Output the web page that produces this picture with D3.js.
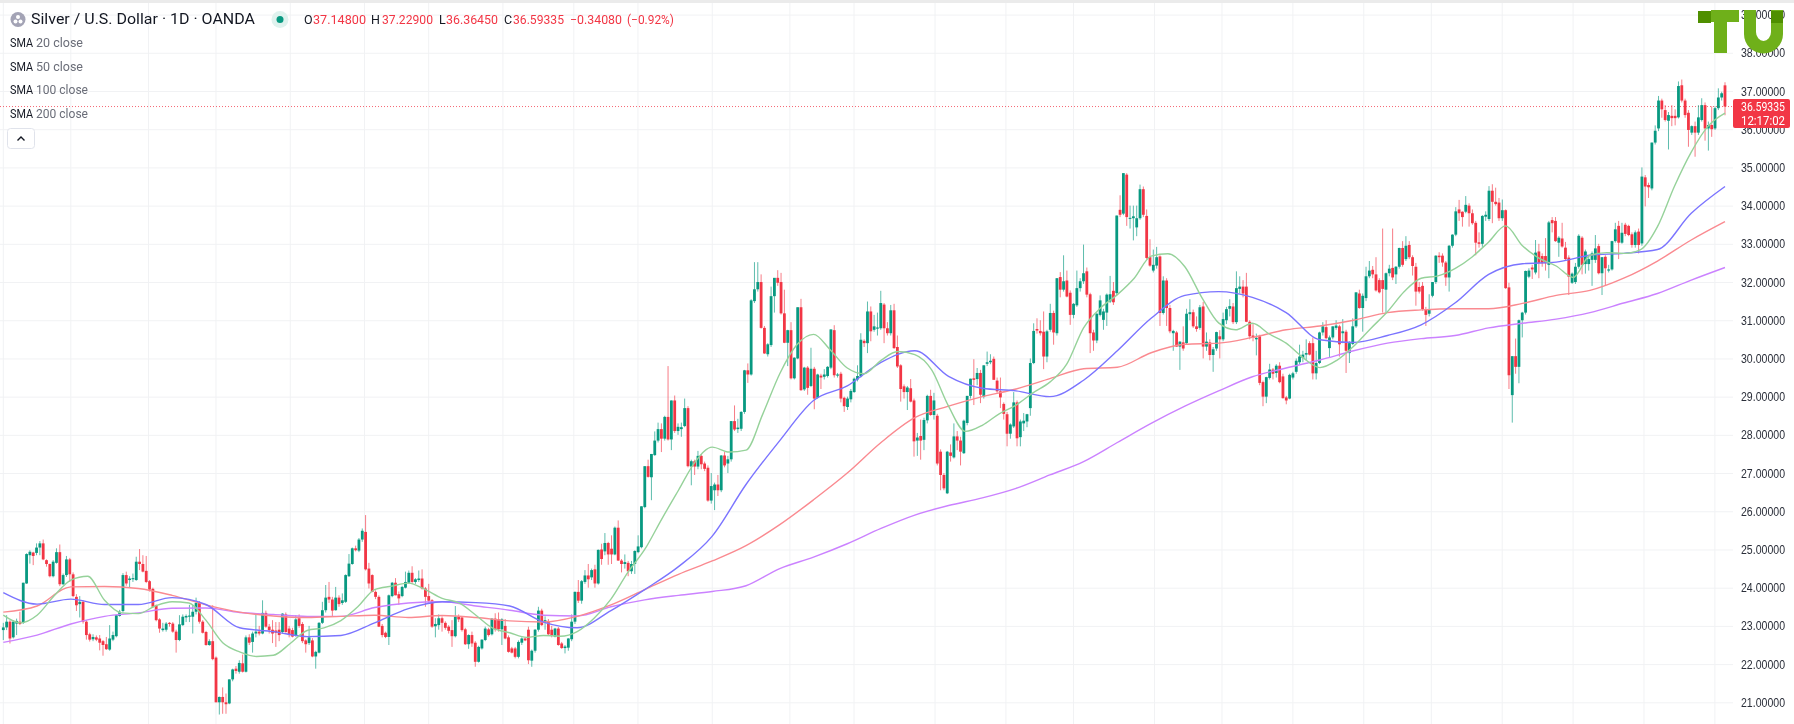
<!DOCTYPE html>
<html>
<head>
<meta charset="utf-8">
<title>Silver / U.S. Dollar</title>
<script src="https://cdn.jsdelivr.net/npm/d3@7"></script>
<style>
    html, body { margin: 0; padding: 0; background: #fff; overflow: hidden; }
    svg { display: block; filter: blur(0.3px); font-family: Roboto, "Noto Sans", sans-serif; }
    .grid line { stroke: #f1f2f4; stroke-width: 1; }
    .grid path { display: none; }
    .price-axis path, .price-axis line { display: none; }
    .price-axis text { font-size: 12.5px; fill: #2a2e39; }
</style>
</head>
<body>
<svg id="chart" width="1794" height="724"></svg>
<script>
// Daily candles, one array per stretch of the chart: [open, high, low, close]
const barsA = [
[22.89,23.08,22.63,22.96],[22.96,23.28,22.89,23.11],[23.11,23.15,22.54,22.67],[22.70,23.15,22.67,23.11],[23.06,23.19,22.76,23.13],[23.11,23.37,23.02,23.05],[23.08,24.13,23.05,24.13],[24.11,24.90,24.10,24.88],[24.85,24.98,24.63,24.94],[24.92,24.94,24.59,24.83],[24.91,25.16,24.85,25.05],[25.05,25.22,24.85,25.16],[25.16,25.26,24.72,24.74],[24.72,24.74,24.55,24.62],[24.62,24.63,24.27,24.30],[24.30,24.72,24.27,24.68],[24.65,25.03,24.63,24.93],[24.93,25.13,24.04,24.09],[24.09,24.37,24.07,24.33],[24.33,24.83,24.28,24.74],[24.74,24.78,24.15,24.35],[24.35,24.4,23.75,23.78],[23.76,23.83,23.39,23.54],[23.57,23.78,23.22,23.63],[23.63,23.67,23.06,23.11],[23.11,23.15,22.64,22.76],[22.78,22.82,22.59,22.64],[22.65,22.78,22.6,22.71],[22.7,22.75,22.6,22.64],[22.67,22.76,22.36,22.56],[22.6,22.63,22.22,22.5],[22.52,22.71,22.37,22.39],[22.38,23.02,22.35,22.67],[22.64,22.85,22.6,22.76],[22.73,23.3,22.7,23.28],[23.26,23.42,23.24,23.37],[23.39,24.38,23.35,24.33],[24.33,24.42,24.05,24.11],[24.2,24.3,24.0,24.24],[24.22,24.37,24.15,24.25],[24.2,24.81,24.18,24.68],[24.68,25.01,24.46,24.62],[24.62,24.85,24.4,24.42],[24.44,24.83,24.12,24.15],[24.17,24.2,23.9,23.95],[23.97,24,23.48,23.5],[23.54,23.56,23.12,23.15],[23.17,23.2,22.82,22.93],[22.89,23.08,22.85,22.93],[22.9,23.1,22.85,23.06],[23.08,23.1,22.98,23.05],[23.06,23.1,22.82,22.85],[22.85,22.9,22.3,22.63],[22.63,23.28,22.6,23.04],[23.02,23.3,23,23.24],[23.22,23.3,23.1,23.26],[23.24,23.55,23.1,23.27],[23.24,23.55,22.8,23.37],[23.37,23.74,23.3,23.6],[23.6,23.65,23.06,23.11],[23.11,23.15,22.8,22.82],[22.84,22.87,22.48,22.5],[22.5,22.65,22.48,22.6],[22.6,23.54,22.1,22.13],[22.17,22.2,21,21.0],[21,21.15,20.68,21.14],[21.14,21.39,20.7,21],[21,21.23,20.7,20.95],[20.97,21.6,20.95,21.6],[21.6,21.88,21.55,21.86],[21.88,21.95,21.75,21.82],[21.8,22.1,21.75,22.03],[22.02,22.25,21.78,21.8],[21.8,22.75,21.78,22.7],[22.7,22.78,22.5,22.56],[22.58,22.85,22.3,22.8],[22.8,23.3,22.7,22.85],[22.85,23,22.75,22.8],[22.8,23.67,22.78,23.34],[23.34,23.4,22.95,22.98],[22.98,23.05,22.8,22.89],[22.9,23.15,22.55,22.8],[22.88,23.1,22.45,22.82],[22.9,23.1,22.6,22.76],[22.84,23.33,22.8,23.32],[23.3,23.35,22.82,22.84],[22.93,23,22.7,22.76],[22.89,22.95,22.7,22.72],[22.74,23.28,22.72,23.17],[23.2,23.3,22.95,23]
];
const barsB = [
[23.05,23.1,22.55,22.6],[22.62,22.65,22.3,22.52],[22.55,23,22.5,22.7],[22.62,22.68,22.18,22.2],[22.2,22.35,21.88,22.32],[22.3,23.1,22.28,23.08],[23.08,23.63,23.05,23.41],[23.41,24.07,23.35,23.74],[23.76,24.15,23.6,23.69],[23.69,23.76,23.25,23.4],[23.41,24.02,23.4,23.74],[23.74,23.8,23.5,23.57],[23.6,23.85,23.55,23.67],[23.63,24.35,23.6,24.33],[24.3,24.88,24.28,24.63],[24.62,25.05,24.6,25.03],[25.03,25.1,24.95,24.98],[24.97,25.3,24.93,25.26],[25.26,25.55,25.2,25.49],[25.46,25.9,24.45,24.48],[24.5,24.65,23.98,24.11],[24.33,24.35,23.88,23.89],[23.89,23.93,23.7,23.76],[23.76,23.8,22.97,22.98],[23,23.05,22.7,22.76],[22.82,22.85,22.68,22.71],[22.71,23.82,22.5,23.8],[23.78,24.15,23.75,24.13],[24.13,24.25,23.8,23.8],[23.83,23.9,23.55,23.72],[23.78,24.05,23.75,24.02],[24,24.42,23.98,24.15],[24.13,24.45,24.1,24.39],[24.39,24.56,24.1,24.15],[24.15,24.25,24.1,24.22],[24.2,24.45,24.15,24.24],[24.24,24.48,23.95,23.98],[23.98,24.02,23.5,23.76],[23.78,24.1,23.6,23.66],[23.67,23.7,22.95,22.98],[22.99,23.2,22.7,23.05],[23.02,23.3,22.9,23.2],[23.2,23.25,22.85,23.08],[23.08,23.12,22.9,22.95],[22.98,23.02,22.8,22.87],[22.89,23.15,22.45,22.73],[22.73,23.52,22.7,23.24],[23.24,23.3,23.1,23.17],[23.22,23.26,22.85,22.89],[22.91,22.95,22.5,22.52],[22.52,22.78,22.4,22.76],[22.76,22.85,22.45,22.54],[22.56,22.6,21.93,22.06],[22.06,22.48,22.04,22.45],[22.41,22.65,22.38,22.64],[22.63,22.98,22.6,22.93],[22.91,22.95,22.72,22.76],[22.78,23.2,22.75,23.19],[23.19,23.33,22.85,22.91],[23.17,23.35,22.85,22.91],[22.91,23.2,22.5,23.17],[23.0,23.18,22.65,22.67],[22.7,22.75,22.3,22.32],[22.41,22.45,22.28,22.3],[22.41,22.45,22.15,22.19],[22.19,22.62,22.15,22.58],[22.56,22.7,22.5,22.67],[22.67,22.7,22.6,22.62],[22.9,22.98,22.0,22.1],[22.09,22.38,21.93,22.35],[22.35,22.92,22.3,22.9],[22.9,23.5,22.85,23.4],[23.4,23.45,23,23.02],[23.1,23.25,22.9,23.15],[23.13,23.18,22.75,22.78],[22.9,23,22.7,22.76],[22.72,22.95,22.7,22.93],[22.93,22.97,22.48,22.5],[22.54,22.58,22.4,22.42],[22.42,22.5,22.28,22.46],[22.43,22.68,22.35,22.67],[22.65,23.3,22.6,23.11],[23.11,23.9,23.05,23.89],[23.89,24.2,23.6,23.66],[23.66,24.2,23.58,24.17],[24.15,24.46,24.1,24.32],[24.32,24.62,24.0,24.22],[24.27,24.5,24.2,24.46],[24.48,24.6,24,24.11],[24.11,25.0,24.08,24.99]
];
const barsC = [
[25,25.15,24.6,24.75],[24.95,25.43,24.85,25.17],[25.17,25.2,24.6,24.87],[25.02,25.37,24.62,24.87],[24.87,25.6,24.85,25.57],[25.57,25.76,24.7,24.71],[24.71,24.75,24.4,24.62],[24.62,24.87,24.5,24.67],[24.65,24.7,24.3,24.43],[24.43,24.7,24.36,24.62],[24.62,24.98,24.36,24.96],[24.93,25.37,24.9,25.08],[25.06,26.13,25.03,26.13],[26.11,27.18,26.08,27.18],[27.18,27.35,26.88,26.9],[26.89,27.5,26.29,27.5],[27.47,28.09,27.45,27.85],[27.85,28.32,27.8,28.15],[28.15,28.3,27.55,27.9],
[27.9,28.5,27.85,28.47],[28.47,29.8,27.85,27.88],[27.88,28.9,27.6,28.9],[28.9,29.03,28.05,28.1],[28.1,28.3,28.0,28.21],[28.15,28.32,27.95,28.2],[28.23,28.95,28.2,28.7],[28.7,28.75,27.15,27.18],[27.17,27.35,26.68,27.31],[27.31,27.35,26.95,27.17],[27.17,27.58,27.1,27.45],[27.45,27.5,27.1,27.23],[27.25,27.3,27.05,27.11],[27.14,27.2,26.25,26.28],[26.28,27,26.2,26.66],[26.55,26.75,26.03,26.7],[26.7,26.95,26.4,26.55],[26.55,27.47,26.5,27.46],[27.46,27.55,27.15,27.2],[27.25,27.45,27.0,27.36],[27.36,28.36,27.3,28.36],[28.36,28.77,28.1,28.14],[28.15,28.42,28.05,28.19],[28.16,28.62,28.1,28.6],[28.6,29.7,28.55,29.69],[29.69,29.87,29.36,29.58],[29.58,31.55,29.55,31.52],[31.5,32.52,31.45,31.81],[31.81,32.52,31.75,32],[32,32.2,30.78,30.8],[30.8,30.85,30.12,30.13],[30.11,30.4,30.05,30.37],[30.35,31.88,30.3,31.63],[31.63,32.1,31.2,32.11],[32.11,32.31,31.9,31.98],[32,32.24,31.15,31.18],[31.18,31.8,30.4,30.41],[30.41,30.75,29.8,30.74],[30.74,30.95,29.45,29.48],[29.48,30.03,29.45,30.02],[30,31.34,29.98,31.34],[31.34,31.56,29.15,29.17],[29.19,29.78,29.15,29.76],[29.76,29.8,29.05,29.23],[29.28,30.28,29.25,29.73],[29.73,29.78,28.67,28.95],[28.97,29.6,28.95,29.58],[29.55,29.6,29.2,29.5],[29.52,29.72,29.45,29.58],[29.54,29.8,29.5,29.78],[29.76,30.76,29.72,30.76],[30.74,30.87,29.5,29.56],[29.55,29.62,29.5,29.58],[29.6,29.65,28.85,28.95],[28.97,29,28.6,28.75],[28.73,29,28.65,28.95],[28.93,29.2,28.85,29.15],[29.12,29.5,29.1,29.47],[29.45,29.82,29.4,29.54]
];
const barsD = [
[29.53,30.66,29.5,30.49],[30.46,30.5,30.3,30.4],[30.4,31.49,30.14,31.23],[31.23,31.36,30.45,30.71],[30.75,31.14,30.7,30.84],[30.78,31.2,30.6,30.81],[30.79,31.77,30.75,31.45],[31.41,31.45,30.4,30.79],[30.79,30.95,30.6,30.66],[30.66,31.4,30.6,31.26],[31.26,31.43,30.25,30.27],[30.3,30.6,29.75,29.79],[29.82,29.85,28.87,29.2],[29.27,29.32,28.95,29.12],[29.12,29.28,28.65,29.24],[29.22,29.46,28.85,28.87],[28.9,28.95,27.43,27.83],[27.85,28.05,27.45,27.93],[27.97,28.4,27.35,27.85],[27.87,28.45,27.6,28.39],[28.38,29.05,28.3,29.02],[29.02,29.18,28.5,28.52],[28.52,29.1,28.4,28.9],[28.5,28.55,27.2,27.25],[27.56,27.62,26.55,26.95],[26.95,27,26.55,26.6],[26.47,27.58,26.45,27.56],[27.54,27.75,27.3,27.45],[27.41,28.3,27.38,27.96],[27.96,28.1,27.6,27.85],[27.85,27.95,27.2,27.56],[27.52,28.4,27.5,28.37],[28.31,29.02,28.25,29.02],[29.02,29.47,28.95,29.47],[29.48,29.98,28.78,29.44],[29.46,29.75,29.3,29.62],[29.62,29.7,28.83,29.05],[29,29.82,28.95,29.82],[29.86,30.18,29.8,29.9],[29.9,30.11,29.85,29.94],[29.99,30.05,29.45,29.44],[29.42,29.5,29.1,29.14],[29.14,29.5,28.7,28.98],[28.81,28.85,28.4,28.55],[28.54,28.6,27.7,28.03],[28.03,28.3,27.9,28.27],[28.22,29.12,28.18,28.85],[28.85,28.9,27.7,27.91],[27.94,28.4,27.7,28.35],[28.3,28.57,28.1,28.37],[28.35,28.55,28.2,28.54],[28.7,30,28.5,29.88],[29.88,30.92,29.85,30.72],[30.77,31.05,30.65,30.73],[30.72,31,30.6,30.66],[30.7,31.23,29.72,30.05],[30.05,30.75,29.9,30.71],[30.75,31.43,30.7,31.19],[31.19,31.25,30.36,30.68],[30.66,32.1,30.6,32.1],[32.13,32.26,31.6,31.8],[31.8,32.7,31.75,32.02],[32.04,32.3,31.6,31.62],[31.72,31.78,30.88,31.14],[31.14,31.45,31.05,31.43],[31.39,32.3,31.35,31.84],[31.84,32.1,31.75,32.02],[32.02,32.98,31.95,32.23],[32.28,32.38,31.6,31.67],[31.68,31.72,30.14,30.66],[30.68,30.75,30.2,30.47],[30.47,31.2,30.4,31.17],[31.14,31.65,31.1,31.52],[31.01,31.3,30.75,31.23],[31.2,31.7,30.85,31.67],[31.49,32.16,31.45,31.68],[31.77,32,31.4,31.47],[31.71,33.74,31.65,33.74],[33.89,34.27,33.7,33.76],[33.79,34.85,33.75,34.85],[34.81,34.85,33.47,33.7],[33.66,34,33.4,33.68],[33.67,34,33.09,33.72],[33.43,34,33.2,33.67],[33.67,34.55,33.63,34.43],[34.43,34.5,33.7,33.76],[33.73,33.9,32.6,32.63],[32.65,33.12,32.4,32.43],[32.3,32.85,32.25,32.45],[32.43,32.92,32.35,32.65],[32.67,32.7,30.85,31.19]
];
const barsE = [
[31.19,32.15,31.15,32.04],[32.04,32.1,30.85,31.32],[31.32,31.4,30.66,30.71],[30.66,30.75,30.2,30.72],[30.68,30.72,30.3,30.31],[30.31,30.45,29.7,30.44],[30.42,30.84,30.2,30.26],[30.4,31.3,30.38,31.17],[31.16,31.55,31,31.21],[31.21,31.28,30.8,30.84],[30.84,31.1,30.7,30.77],[30.8,31.4,30.75,31.34],[31.36,31.48,30,30.31],[30.31,30.68,30.2,30.44],[30.42,30.5,29.95,30.09],[30.09,30.3,29.65,30.24],[30.26,30.7,30.2,30.69],[30.58,30.74,30,30.5],[30.5,31.2,30.45,31.03],[31,31.35,30.9,31.29],[31.3,31.55,31.1,31.37],[31.36,31.45,30.9,30.95],[30.95,32.28,30.9,31.84],[31.82,32.15,31.7,31.88],[31.88,32.05,31.6,31.7],[31.88,32.24,30.95,30.96],[30.96,31,30.5,30.58],[30.6,30.9,30.45,30.54],[30.5,30.65,30.08,30.54],[30.58,30.62,29.3,29.36],[29.38,29.42,28.75,29],[29,29.52,28.83,29.51],[29.49,29.86,29.45,29.71],[29.71,29.75,29.45,29.6],[29.62,29.85,29.5,29.81],[29.81,29.9,29.35,29.38],[29.53,29.6,28.95,28.96],[28.98,29.02,28.8,28.9],[28.95,29.6,28.93,29.57],[29.5,29.65,29.45,29.61],[29.65,30,29.6,29.94],[29.9,30.36,29.85,30.05],[30.01,30.2,29.9,30.1],[30.1,30.5,29.95,30.14],[30.4,30.45,30.08,30.1],[30.4,30.55,29.45,29.61],[29.61,30.2,29.45,29.88],[29.88,30.7,29.85,30.68],[30.68,30.95,30.6,30.84],[30.82,31,30.5,30.53],[30.27,30.6,30.03,30.55],[30.55,30.84,30.5,30.84],[30.8,31,30.75,30.86],[30.84,30.88,30.05,30.37],[30.66,31.03,30.4,30.71],[30.7,30.75,29.62,30.2],[30.14,30.45,29.88,30.4],[30.38,31.05,30.35,30.84],[30.84,31.73,30.8,31.73],[31.7,31.8,31.3,31.32],[31.32,31.7,30.7,31.64],[31.58,32.4,31.5,32.15],[32.15,32.55,32.1,32.3],[32.32,32.42,32.1,32.2],[32.2,32.65,31.75,31.78],[32.05,32.1,31.7,31.73],[32.05,33.4,31.2,31.82],[31.8,32.25,31.2,32.23],[32.23,32.45,32.15,32.35],[32.37,33.4,32.05,32.12],[32.2,32.42,31.95,32.4],[32.4,32.9,32.35,32.89],[32.89,33.07,32.4,32.45],[32.6,33.2,32.55,32.95],[32.97,33.07,32.6,32.65],[32.65,32.7,32.17,32.42],[32.4,32.5,31.38,31.75],[31.87,32,31.7,31.75],[31.9,32,31.25,31.29],[31.29,31.35,30.85,31.14],[31.17,31.68,31.1,31.27],[31.64,32,31.6,32],[32,32.7,31.95,32.69],[32.69,32.78,32.5,32.65],[32.69,32.75,32.4,32.51],[32.51,32.55,31.9,32.12],[32.12,32.97,31.75,32.95],[32.95,33.25,32.9,33.24],[33.24,33.96,33.2,33.85],[33.9,34.15,33.6,33.8]
];
const barsF = [
[33.84,33.85,33.45,33.7],[33.84,34.25,33.8,34.02],[34,34.06,33.45,33.8],[33.8,33.9,33.5,33.54],[33.55,33.6,32.7,33.03],[33.04,33.3,32.9,33],[33,33.75,32.92,33.73],[33.71,33.85,33.6,33.76],[33.65,34.51,33.6,34.39],[34.39,34.56,33.54,34.1],[34.1,34.47,34,34.04],[34.08,34.2,33.6,33.67],[33.67,34.16,33.6,33.88],[33.88,33.9,31.82,31.84],[31.86,31.98,29.2,29.56],[29.04,30.05,28.32,30.06],[30.06,30.52,29.6,29.78],[29.78,31.02,29.35,31.0],[31,31.22,30.55,31.2],[31.2,32.3,31.15,32.29],[32.14,32.36,32.1,32.3],[32.38,32.45,32.08,32.33],[32.25,33.1,32.2,32.77],[32.8,33.0,32.1,32.49],[32.68,32.75,32.4,32.49],[32.68,33.15,32.3,32.49],[32.45,33.6,32.1,33.56],[33.62,33.7,33.3,33.54],[33.6,33.7,33.05,33.07],[33.03,33.2,32.66,33.16],[33.14,33.55,32.9,32.93],[32.9,33.05,32.55,32.6],[32.64,32.7,31.66,32.14],[31.98,32.25,31.95,32.22],[32.0,32.5,31.95,32.4],[32.4,33.25,32.35,33.21],[33.16,33.2,32.2,32.45],[32.47,32.85,32.22,32.8],[32.47,32.7,32.3,32.6],[32.58,32.8,31.9,32.75],[32.58,33.23,32.5,32.88],[32.94,33,32.2,32.23],[32.23,32.65,31.66,32.65],[32.66,32.7,31.9,32.36],[32.3,32.45,32.25,32.33],[32.33,33.08,32.3,33.07],[33.07,33.55,33.03,33.38],[33.47,33.6,32.6,33.03],[33.03,33.55,33,33.29],[33.5,33.55,33.2,33.26],[33.47,33.5,33.2,33.23],[33.25,33.3,32.9,32.97],[32.97,33.35,32.9,33.3],[33.32,33.4,32.75,32.97],[33.01,35.0,32.95,34.76],[34.74,34.8,33.98,34.5],[34.54,34.6,34.2,34.48],[34.45,35.65,34.4,35.65],[35.65,36.1,35.6,35.96],[36.02,36.87,35.95,36.75],[36.75,36.8,36.3,36.52],[36.5,36.63,36.2,36.24],[36.22,36.45,35.47,36.37],[36.35,36.63,36.08,36.29],[36.35,36.52,36.1,36.29],[36.31,37.25,36.28,37.13],[37.15,37.3,36.7,36.75],[36.75,36.8,36.3,36.37],[36.43,36.5,35.54,35.98],[35.91,36.1,35.85,36.08],[36.08,36.2,35.28,35.91],[35.91,36.63,35.85,36.31],[36.24,36.81,36.2,36.63],[36.63,36.7,35.7,36.02],[36.02,36.2,35.44,36.11],[36.11,36.6,35.8,36.0],[36.02,36.6,35.98,36.55],[36.55,37.07,36.5,36.83],[36.83,36.98,36.75,36.94],[37.148,37.229,36.3645,36.59335]
];

// Moving averages: sma20 every 5 bars, the others every 10 bars
const sma20 = [23.28,23.08,23.28,23.78,24.2,24.3,23.67,23.34,23.32,23.52,23.63,23.6,23.15,22.56,22.32,22.2,22.23,22.54,22.88,22.95,23.14,23.5,23.95,24.04,24.12,23.95,23.72,23.6,23.28,22.94,22.82,22.7,22.75,22.73,22.85,23.2,23.7,24.4,25.0,25.79,26.55,27.3,27.68,27.55,27.6,28.55,29.6,30.35,30.63,30.22,29.75,29.6,29.95,30.18,30.1,29.7,28.75,28.09,28.25,28.55,28.78,29.1,29.38,29.85,30.8,31.32,31.67,32.1,32.68,32.74,32.4,31.6,30.93,30.75,30.92,30.64,30.4,30.02,29.76,29.95,30.32,30.78,31.22,31.75,32.1,32.16,32.35,32.65,33.05,33.47,32.95,32.62,32.42,32.12,32.7,32.77,32.75,32.85,33.45,34.5,35.4,36.08,36.42];
const sma50 = [23.87,23.57,23.7,23.56,23.56,23.74,23.56,22.95,22.85,22.72,22.75,23.08,23.45,23.63,23.61,23.52,23.1,22.95,23.4,23.95,24.55,25.35,26.7,27.85,28.9,29.28,29.9,30.2,29.53,29.22,29.15,29.0,29.43,30.2,31.05,31.65,31.75,31.6,31.2,30.49,30.42,30.6,30.88,31.45,32.2,32.48,32.52,32.7,32.75,32.85,33.8,34.5];
const sma100 = [23.36,23.52,24.02,24.03,23.98,23.8,23.55,23.36,23.26,23.22,23.25,23.28,23.22,23.27,23.22,23.13,23.1,23.25,23.55,23.95,24.35,24.7,25.1,25.65,26.3,27.0,27.8,28.45,28.75,29.0,29.2,29.47,29.73,29.77,30.15,30.37,30.4,30.55,30.75,30.85,31.0,31.2,31.27,31.3,31.3,31.44,31.65,31.78,32.1,32.55,33.1,33.58];
const sma200 = [22.57,22.76,23.05,23.25,23.34,23.46,23.47,23.35,23.3,23.25,23.25,23.48,23.6,23.63,23.52,23.41,23.28,23.26,23.5,23.68,23.8,23.9,24.05,24.5,24.8,25.15,25.55,25.9,26.15,26.35,26.6,26.95,27.3,27.8,28.3,28.75,29.15,29.52,29.75,29.96,30.2,30.4,30.52,30.6,30.8,30.92,31.03,31.2,31.45,31.7,32.05,32.38];

const priceTicks = [21,22,23,24,25,26,27,28,29,30,31,32,33,34,35,36,37,38,39];
const monthBars = [0,20,43,63,85,107,126,148,169,188,210,233,252,276,297,317,341,361,382,403,423,444,465,486,507];
const lastPrice = 36.59335;
const headerTitle = 'Silver / U.S. Dollar · 1D · OANDA';
const headerValues = [
    ['O', 304, 0], ['37.14800', 313, 53], ['H', 371, 0], ['37.22900', 382, 51], ['L', 439, 0], ['36.36450', 446, 52],
    ['C', 504, 0], ['36.59335', 513, 51], ['−0.34080', 570, 52], ['(−0.92%)', 627, 47]
];
const smaLabels = [['20 close', 43, 47], ['50 close', 67, 47], ['100 close', 90, 52], ['200 close', 114, 52]];

const UP = '#089981';
const DOWN = '#f23645';

const bars = [...barsA, ...barsB, ...barsC, ...barsD, ...barsE, ...barsF];
const svg = d3.select('#chart');

const paneRight = 1733;
const xStart = 3.3;
const xEnd = 1725;
const x = d3.scaleLinear().domain([0, bars.length - 1]).range([xStart, xEnd]);
const gridX = d3.scaleLinear().domain([0, 510]).range([xStart, xEnd]);
const y = d3.scaleLinear().domain([21, 37]).range([702.3, 91]);

// Grid
svg.append('g').attr('class', 'grid')
    .attr('transform', `translate(${paneRight},0)`)
    .call(d3.axisLeft(y).tickValues(priceTicks).tickSize(paneRight).tickFormat(''));

svg.append('g').attr('class', 'grid')
    .selectAll('line')
    .data(monthBars)
    .join('line')
    .attr('x1', d => gridX(d))
    .attr('x2', d => gridX(d))
    .attr('y1', 3)
    .attr('y2', 724);

// Top band of the window
svg.append('rect').attr('width', 1794).attr('height', 3).attr('fill', '#ebebeb');

// Last price line
svg.append('line')
    .attr('x1', 0).attr('x2', paneRight)
    .attr('y1', y(lastPrice)).attr('y2', y(lastPrice))
    .attr('stroke', DOWN).attr('stroke-opacity', 0.75)
    .attr('stroke-dasharray', '1 2');

// Candles
const candle = svg.append('g').selectAll('g')
    .data(bars)
    .join('g')
    .attr('fill', d => d[3] >= d[0] ? UP : DOWN)
    .attr('stroke', d => d[3] >= d[0] ? UP : DOWN);

candle.append('line')
    .attr('x1', (d, i) => x(i))
    .attr('x2', (d, i) => x(i))
    .attr('y1', d => y(d[1]))
    .attr('y2', d => y(d[2]))
    .attr('stroke-width', 1)
    .attr('stroke-opacity', 0.65);

candle.append('rect')
    .attr('x', (d, i) => x(i) - 1.4)
    .attr('width', 2.8)
    .attr('y', d => y(Math.max(d[0], d[3])))
    .attr('height', d => Math.max(1, Math.abs(y(d[0]) - y(d[3]))))
    .attr('stroke', 'none');

// Moving averages
const smaLines = [
    { values: sma200, color: '#cb82ff' },
    { values: sma100, color: '#fa8a90' },
    { values: sma50, color: '#7b74ff' },
    { values: sma20, color: '#96d29a' },
];

smaLines.forEach(s => {
    const lineX = d3.scaleLinear().domain([0, s.values.length - 1]).range([xStart, xEnd]);
    svg.append('path')
        .datum(s.values)
        .attr('fill', 'none')
        .attr('stroke', s.color)
        .attr('stroke-width', 1.4)
        .attr('d', d3.line().x((d, i) => lineX(i)).y(d => y(d)).curve(d3.curveMonotoneX));
});

// Price axis
svg.append('g').attr('class', 'price-axis')
    .attr('transform', `translate(${paneRight + 8},0)`)
    .call(d3.axisRight(y).tickValues(priceTicks).tickSize(0).tickPadding(0).tickFormat(d3.format('.5f')))
    .selectAll('text')
    .attr('textLength', 44)
    .attr('lengthAdjust', 'spacingAndGlyphs');

// Last price tag
svg.append('rect')
    .attr('x', paneRight).attr('y', 99)
    .attr('width', 57).attr('height', 29).attr('rx', 2)
    .attr('fill', DOWN);

[['36.59335', 107], ['12:17:02', 120.5]].forEach(([label, ty]) => {
    svg.append('text')
        .attr('x', 1741).attr('y', ty)
        .attr('dy', '0.35em')
        .attr('fill', '#fff')
        .attr('font-size', 12.5)
        .attr('textLength', 44)
        .attr('lengthAdjust', 'spacingAndGlyphs')
        .text(label);
});

// Logo on top of the axis
const logo = svg.append('g');
logo.append('path')
    .attr('fill', '#6fb01a')
    .attr('d', 'M1711 10H1739V22H1727V53H1714V22H1711Z');
logo.append('path')
    .attr('fill', '#6fb01a')
    .attr('d', 'M1744 10H1756V32A7.5 9 0 0 0 1771 32V10H1783V34A19.5 19.5 0 0 1 1744 34Z');
logo.append('rect').attr('x', 1698).attr('y', 11).attr('width', 13).attr('height', 12).attr('fill', '#4f8f00');
logo.append('rect').attr('x', 1771).attr('y', 11).attr('width', 12).attr('height', 12).attr('fill', '#4f8f00');

// Header
const header = svg.append('g');
header.append('circle').attr('cx', 18).attr('cy', 19.5).attr('r', 7.5).attr('fill', '#a3a3b5');
header.append('circle').attr('cx', 15.5).attr('cy', 21.5).attr('r', 2).attr('fill', '#fff');
header.append('circle').attr('cx', 20.5).attr('cy', 21.5).attr('r', 2).attr('fill', '#fff');
header.append('circle').attr('cx', 18).attr('cy', 17).attr('r', 2).attr('fill', '#fff');
header.append('text')
    .attr('x', 31).attr('y', 19.5).attr('dy', '0.35em')
    .attr('fill', '#131722').attr('font-size', 14)
    .attr('textLength', 224).attr('lengthAdjust', 'spacingAndGlyphs')
    .text(headerTitle);
header.append('circle').attr('cx', 280).attr('cy', 19.5).attr('r', 8.5).attr('fill', '#dff2ee');
header.append('circle').attr('cx', 280).attr('cy', 19.5).attr('r', 3.5).attr('fill', UP);

headerValues.forEach(([label, tx, width]) => {
    const t = header.append('text')
        .attr('x', tx).attr('y', 19.5).attr('dy', '0.35em')
        .attr('font-size', 12.5)
        .attr('fill', width ? DOWN : '#131722')
        .text(label);
    if (width) t.attr('textLength', width).attr('lengthAdjust', 'spacingAndGlyphs');
});

smaLabels.forEach(([label, ty, width]) => {
    header.append('text')
        .attr('x', 10).attr('y', ty).attr('dy', '0.35em')
        .attr('font-size', 12).attr('fill', '#131722')
        .attr('textLength', 23).attr('lengthAdjust', 'spacingAndGlyphs')
        .text('SMA');
    header.append('text')
        .attr('x', 36).attr('y', ty).attr('dy', '0.35em')
        .attr('font-size', 12).attr('fill', '#6a6d78')
        .attr('textLength', width).attr('lengthAdjust', 'spacingAndGlyphs')
        .text(label);
});

// Collapse button
header.append('rect')
    .attr('x', 7.5).attr('y', 128.5).attr('width', 27).attr('height', 20).attr('rx', 3)
    .attr('fill', '#fff').attr('stroke', '#e0e3eb');
header.append('path')
    .attr('d', 'M17.5 140.5L21 137L24.5 140.5')
    .attr('fill', 'none').attr('stroke', '#131722').attr('stroke-width', 1.4);
</script>
</body>
</html>
